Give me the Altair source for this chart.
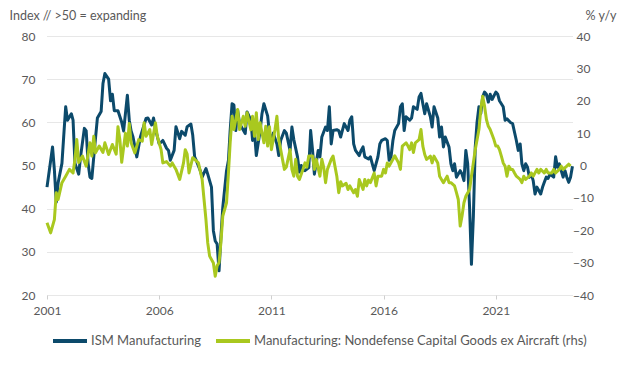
import altair as alt
import pandas as pd

S1 = "ISM Manufacturing"
S2 = "Manufacturing: Nondefense Capital Goods ex Aircraft (rhs)"

ism_dates = [
    "2001-01", "2001-04", "2001-05", "2001-06", "2001-07", "2001-09", "2001-10", "2001-11", "2001-12",
    "2002-02", "2002-03", "2002-04", "2002-06", "2002-07", "2002-09", "2002-10", "2002-11", "2002-12",
    "2003-01", "2003-02", "2003-04", "2003-06", "2003-07", "2003-08", "2003-10", "2003-11", "2003-12",
    "2004-01", "2004-03", "2004-05", "2004-06", "2004-08", "2004-09", "2004-10", "2004-11",
    "2005-01", "2005-03", "2005-06", "2005-07", "2005-09", "2005-10", "2005-11",
    "2006-01", "2006-03", "2006-05", "2006-06", "2006-07", "2006-09", "2006-10", "2006-12",
    "2007-01", "2007-03", "2007-04", "2007-06", "2007-07", "2007-08", "2007-09", "2007-11", "2007-12",
    "2008-02", "2008-03", "2008-05", "2008-06", "2008-07", "2008-08", "2008-09", "2008-10", "2008-11",
    "2009-01", "2009-02", "2009-03", "2009-04", "2009-05", "2009-06", "2009-07", "2009-08", "2009-11", "2009-12",
    "2010-02", "2010-03", "2010-04", "2010-05", "2010-07", "2010-08", "2010-09", "2010-11", "2010-12",
    "2011-01", "2011-02", "2011-04", "2011-05", "2011-06", "2011-08", "2011-09", "2011-11", "2011-12",
    "2012-01", "2012-03", "2012-04", "2012-05", "2012-06", "2012-07", "2012-09", "2012-10", "2012-11", "2012-12",
    "2013-02", "2013-03", "2013-04", "2013-06", "2013-07", "2013-08", "2013-09", "2013-10", "2013-12",
    "2014-01", "2014-02", "2014-03", "2014-04", "2014-06", "2014-07", "2014-08", "2014-09", "2014-10", "2014-12",
    "2015-01", "2015-02", "2015-03", "2015-05", "2015-06", "2015-07", "2015-08", "2015-10", "2015-11", "2015-12",
    "2016-02", "2016-03", "2016-04", "2016-05", "2016-06", "2016-07", "2016-09", "2016-10", "2016-11", "2016-12",
    "2017-01", "2017-03", "2017-04", "2017-05", "2017-07", "2017-08", "2017-09", "2017-10", "2017-11", "2017-12",
    "2018-02", "2018-03", "2018-04", "2018-06", "2018-07", "2018-08", "2018-09", "2018-10", "2018-12",
    "2019-01", "2019-02", "2019-03", "2019-04", "2019-06", "2019-07", "2019-08", "2019-09", "2019-10", "2019-11", "2019-12",
    "2020-01", "2020-02", "2020-03", "2020-04", "2020-05", "2020-06", "2020-07", "2020-08", "2020-09", "2020-10", "2020-11",
    "2021-01", "2021-02", "2021-03", "2021-05", "2021-06", "2021-07", "2021-09", "2021-10", "2021-12",
    "2022-01", "2022-02", "2022-03", "2022-04", "2022-05", "2022-06", "2022-07", "2022-08", "2022-09", "2022-10", "2022-11", "2022-12",
    "2023-01", "2023-02", "2023-03", "2023-04", "2023-05", "2023-06", "2023-08", "2023-09", "2023-10", "2023-11", "2023-12",
    "2024-01", "2024-02", "2024-03", "2024-04", "2024-05", "2024-06",
]
ism_values = [
    45, 54.3, 49, 41.5, 46, 50.5, 57, 63.6, 60.5,
    62, 60.5, 50.5, 48, 52, 58.6, 58, 50.5, 47.3,
    47, 52, 61, 62.5, 69, 71.3, 70, 65, 66.5,
    62.7, 62.7, 60, 58, 66.3, 60.5, 58, 56.6,
    52, 56.6, 60.9, 61, 59.4, 61, 58.5,
    55, 55.8, 54, 53.5, 51.2, 53.5, 59, 56.2,
    57.9, 57, 59, 59.6, 57, 52, 51, 48.8, 47.3,
    49.3, 48, 45, 34.9, 32.5, 31.8, 25.6, 33.3, 40.3,
    48.8, 51.2, 58.1, 64.3, 64, 58.1, 62.8, 59.7, 57.4, 62.4,
    60.5, 55.8, 57.7, 52.3, 58, 62, 64.3, 61.5, 57.4,
    55.8, 57.5, 55, 52.3, 55.8, 58.1, 57.5, 53.5, 58.9,
    56, 52, 48.5, 50, 49, 48.8, 49.5, 58.1, 53.5, 48,
    53.5, 52, 56.6, 58.9, 58.1, 63.6, 55, 58.1, 58.3,
    58.1, 56.6, 58.1, 59.7, 58.1, 60.5, 61.3, 55, 53.5, 52.3,
    53.5, 54.3, 52, 51.5, 52, 50.4, 48.8, 52, 55, 55.8,
    56.2, 55.8, 51.2, 52, 55.8, 58.1, 59.7, 63.6, 64.3, 58.1,
    61.3, 60.5, 61, 63.6, 63, 65.9, 66.7, 64.3, 62, 64.3,
    61.3, 58.9, 63.6, 61, 56.6, 58.9, 54.3, 56.6, 54.3,
    50.4, 48.8, 50.4, 47.3, 48.8, 48, 46.5, 53.5, 50.4, 40.3, 27.1,
    38, 54.3, 60, 63.6, 62, 65.9, 67, 66.5, 64.7, 66.5, 65.3,
    67, 66.5, 65, 63.6, 60.5, 60.8, 59.9, 59.7, 55.8,
    53.5, 55, 50.4, 48.8, 50.4, 49.6, 47.3, 48, 46.5, 43.4, 45, 44.2,
    43.4, 45, 46.1, 47.3, 47, 48, 47.3, 52, 49.6, 50.4, 48.8,
    47.3, 48.8, 47.3, 46.1, 47.3, 49.8,
]

capex_dates = [
    "2001-01", "2001-03", "2001-05", "2001-06", "2001-07", "2001-09", "2001-11",
    "2002-01", "2002-03", "2002-04", "2002-05", "2002-06", "2002-08", "2002-10", "2002-12",
    "2003-01", "2003-02", "2003-03", "2003-05", "2003-07", "2003-08", "2003-10", "2003-12",
    "2004-02", "2004-03", "2004-04", "2004-05", "2004-07", "2004-08", "2004-09", "2004-10", "2004-12",
    "2005-02", "2005-04", "2005-05", "2005-06", "2005-08", "2005-09", "2005-11", "2005-12",
    "2006-02", "2006-03", "2006-05", "2006-07", "2006-08", "2006-10", "2006-12",
    "2007-02", "2007-03", "2007-04", "2007-05", "2007-07", "2007-08", "2007-10", "2007-12",
    "2008-01", "2008-02", "2008-03", "2008-04", "2008-06", "2008-07", "2008-08", "2008-09", "2008-10", "2008-11",
    "2009-01", "2009-02", "2009-03", "2009-04", "2009-05", "2009-07", "2009-08", "2009-10", "2009-11", "2009-12",
    "2010-02", "2010-03", "2010-04", "2010-05", "2010-06", "2010-07", "2010-09", "2010-10", "2010-11", "2010-12",
    "2011-01", "2011-03", "2011-04", "2011-05", "2011-06", "2011-07", "2011-08", "2011-09", "2011-11", "2011-12",
    "2012-01", "2012-02", "2012-03", "2012-04", "2012-06", "2012-07", "2012-08", "2012-09", "2012-11", "2012-12",
    "2013-01", "2013-03", "2013-04", "2013-05", "2013-06", "2013-07", "2013-09", "2013-10", "2013-12",
    "2014-01", "2014-02", "2014-03", "2014-05", "2014-06", "2014-07", "2014-09", "2014-10", "2014-11", "2014-12",
    "2015-02", "2015-03", "2015-04", "2015-05", "2015-06", "2015-08", "2015-09", "2015-10", "2015-12",
    "2016-01", "2016-02", "2016-03", "2016-04", "2016-06", "2016-07", "2016-09", "2016-10", "2016-11",
    "2017-01", "2017-02", "2017-03", "2017-04", "2017-05", "2017-06", "2017-08", "2017-09", "2017-10", "2017-11", "2017-12",
    "2018-02", "2018-03", "2018-04", "2018-06", "2018-07", "2018-08", "2018-09", "2018-11", "2018-12",
    "2019-01", "2019-03", "2019-04", "2019-05", "2019-06", "2019-07", "2019-08", "2019-09", "2019-11", "2019-12",
    "2020-01", "2020-02", "2020-04", "2020-05", "2020-06", "2020-07", "2020-08", "2020-09", "2020-10", "2020-12",
    "2021-01", "2021-02", "2021-03", "2021-04", "2021-05", "2021-06", "2021-07", "2021-08", "2021-09", "2021-10", "2021-11", "2021-12",
    "2022-02", "2022-03", "2022-04", "2022-05", "2022-07", "2022-08", "2022-09", "2022-11", "2022-12",
    "2023-01", "2023-03", "2023-04", "2023-05", "2023-07", "2023-08", "2023-09", "2023-11", "2023-12",
    "2024-01", "2024-03", "2024-04", "2024-05",
]
capex_values = [
    -17.7, -20.8, -16.7, -8.4, -10.5, -5.3, -3.3,
    -1.2, -2.3, 1.9, 8, 0.9, 2.9, -0.2, 7,
    2.9, 9, 3.9, 6, 4, 7, 3.4, 6.5,
    3.5, 12, 8, 1, 10, 6, 13, 7, 3.9,
    8, 7.5, 13.2, 9, 11.1, 6.5, 13.2, 9,
    4.9, 0.8, 1.2, -0.2, 0.8, -1.2, -4.3,
    0.8, 4.9, 3.5, -2.3, 2.4, 1.9, 0.8, -4.3,
    -10.5, -16.7, -23.9, -28, -30.1, -34.2, -31, -30, -23.9, -15.6,
    -11.5, -2.3, 7, 15.2, 11.1, 17.3, 11.1, 15.2, 12.1, 16.3,
    11, 15.2, 9, 16.3, 8, 13.2, 7, 12.1, 6, 12,
    4.9, 11.1, 15.2, 8, 4.9, 1.9, -1.2, -0.5, 4.9, -1.2,
    -3.3, 1.9, -3.3, -4.3, -1, 0.8, -0.5, 2.9, 2.9, -1.2,
    1.9, -3.3, 1.9, -0.5, -5.3, -1.2, 1.9, 2.9, -3.3,
    -8.4, -5, -6.3, -5.5, -7.4, -6.3, -8.4, -7.4, -9.5, -4.3,
    -7.4, -4.3, -6.3, -4.5, -5.3, -2.3, -6.3, -3.3, -3.3,
    -1.2, -2.3, 0.8, -0.2, 1.9, 3, 0.8, -1.2, 6,
    7, 6, 4.9, 7, 4, 7, 8, 11.1, 6, 3.4, 1.9,
    2.9, 0.8, 2.9, 0.8, -3.3, -4.3, -5.3, -3.3, -5.3,
    -5.3, -6.3, -8.4, -10.5, -18.7, -15.6, -11.5, -9.5, -7.4, -3.3,
    0.8, 4.9, 11.1, 17.3, 21.4, 18.4, 14.2, 12.1, 11.1, 8,
    6, 6, 4.9, 2.9, 0.8, -0.2, -3.3, -0.2, -1.2, -1.2, -2.3, -3.3,
    -4.3, -5.3, -3.3, -4.3, -3.3, -2.3, -3.3, -1.2, -2.3,
    -1.2, -2.3, -1.2, -2.3, -2.3, -1.2, -2.3, -1.2, -0.2,
    -1.2, -0.2, 0.4, -0.2,
]

left_ticks = [20, 30, 40, 50, 60, 70, 80]
right_ticks = [-40, -30, -20, -10, 0, 10, 20, 30, 40]
year_ticks = [2001, 2006, 2011, 2016, 2021]

BLUE = "#0c4a6b"
GREEN = "#a9c81f"
TEXT = "#595959"
GRID = "#cfcfcf"
FONT = "Lato"

ism = pd.DataFrame({"date": ism_dates, "value": ism_values, "series": S1})
capex = pd.DataFrame({"date": capex_dates, "value": capex_values, "series": S2})

x_enc = alt.X(
    "date:T",
    scale=alt.Scale(domain=[alt.DateTime(year=2001, month=1, date=1),
                            alt.DateTime(year=2024, month=6, date=10)]),
    axis=alt.Axis(
        title=None,
        values=[alt.DateTime(year=y, month=1, date=1) for y in year_ticks],
        format="%Y",
        grid=False,
        domain=False,
        ticks=True,
        tickSize=4,
        tickColor=GRID,
        labelPadding=6,
        labelFontSize=12,
        labelColor=TEXT,
        labelFont=FONT,
        labelFlush=False,
        labelOverlap=False,
    ),
)

color_enc = alt.Color(
    "series:N",
    scale=alt.Scale(domain=[S1, S2], range=[BLUE, GREEN]),
    legend=alt.Legend(
        title=None,
        orient="none",
        legendX=4,
        legendY=286,
        direction="horizontal",
        symbolType="stroke",
        symbolSize=1156,
        symbolStrokeWidth=4,
        labelFontSize=13,
        labelFont=FONT,
        labelColor=TEXT,
        labelOffset=2,
        labelLimit=1000,
        columnPadding=7,
        padding=0,
    ),
)

left = alt.Chart(ism).mark_line(strokeWidth=3, strokeJoin="round").encode(
    x=x_enc,
    y=alt.Y(
        "value:Q",
        scale=alt.Scale(domain=[20, 80], nice=False, zero=False),
        axis=alt.Axis(
            orient="left",
            values=left_ticks,
            title="Index // >50 = expanding",
            titleAngle=0,
            titleAlign="left",
            titleBaseline="middle",
            titleX=-38,
            titleY=-21,
            titleFontWeight="normal",
            titleFontSize=12.5,
            titleColor=TEXT,
            titleFont=FONT,
            grid=True,
            gridColor=GRID,
            gridDash=[1, 1],
            gridWidth=1,
            domain=False,
            ticks=False,
            labelPadding=12,
            labelFontSize=12,
            labelColor=TEXT,
            labelFont=FONT,
        ),
    ),
    color=color_enc,
)

right = alt.Chart(capex).mark_line(strokeWidth=3, strokeJoin="round").encode(
    x=x_enc,
    y=alt.Y(
        "value:Q",
        scale=alt.Scale(domain=[-40, 40], nice=False, zero=False),
        axis=alt.Axis(
            orient="right",
            values=right_ticks,
            title="% y/y",
            titleAngle=0,
            titleAlign="left",
            titleBaseline="middle",
            titleX=12,
            titleY=-21,
            titleFontWeight="normal",
            titleFontSize=12.5,
            titleColor=TEXT,
            titleFont=FONT,
            grid=False,
            domain=False,
            ticks=False,
            labelAlign="center",
            labelPadding=10,
            labelFontSize=12,
            labelColor=TEXT,
            labelFont=FONT,
        ),
    ),
    color=color_enc,
)

chart = (
    alt.layer(left, right)
    .resolve_scale(y="independent")
    .properties(
        width=526,
        height=259,
        autosize=alt.AutoSizeParams(type="none"),
        padding={"left": 39, "top": 28, "right": 56, "bottom": 62},
        background="white",
    )
    .configure_view(stroke=None)
)

chart.save("out.html", embed_options={"renderer": "svg", "actions": False})
